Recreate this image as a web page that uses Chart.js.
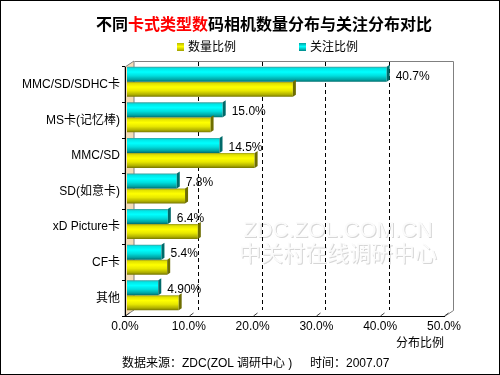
<!DOCTYPE html>
<html>
<head>
<meta charset="utf-8">
<script src="https://cdn.jsdelivr.net/npm/chart.js@4"></script>
<style>
    body { margin: 0; background: #fff; }
    #wrap { position: relative; width: 500px; height: 375px; background: #fff; overflow: hidden;
            font-family: 'Liberation Sans', 'Noto Sans CJK SC', sans-serif; color: #000; }
    #wrap canvas { position: absolute; left: 0; top: 0; }
    .frame { position: absolute; left: 0; top: 0; width: 500px; height: 375px; box-sizing: border-box;
             border: 1px solid #000; pointer-events: none; }
    .title { position: absolute; left: 96px; top: 14px; font: bold 16px 'Noto Sans CJK SC', sans-serif;
             line-height: 18px; white-space: nowrap; }
    .title span { color: #ff0000; }
    .lg { position: absolute; top: 40px; font-size: 12px; line-height: 14px; white-space: nowrap; }
    .lg i { position: absolute; left: -11px; top: 3px; width: 7px; height: 8px; }
    .note { position: absolute; top: 356px; font-size: 12px; line-height: 14px; white-space: nowrap; }
</style>
</head>
<body>
<div id="wrap">
    <canvas id="chart" width="500" height="375"></canvas>
    <div class="title">不同<span>卡式类型数</span>码相机数量分布与关注分布对比</div>
    <div class="lg" style="left:188px"><i style="background:linear-gradient(#b8b800,#ffff00 45%,#a0a000)"></i>数量比例</div>
    <div class="lg" style="left:310px"><i style="background:linear-gradient(#00a0a0,#00ffff 45%,#008888)"></i>关注比例</div>
    <div class="note" style="left:122px">数据来源：ZDC(ZOL 调研中心 )</div>
    <div class="note" style="left:310px">时间：2007.07</div>
    <div class="frame"></div>
</div>

<script>
    const categories = ['MMC/SD/SDHC卡', 'MS卡(记忆棒)', 'MMC/SD', 'SD(如意卡)', 'xD Picture卡', 'CF卡', '其他'];
    const attentionShare = [40.7, 15.0, 14.5, 7.8, 6.4, 5.4, 4.9];
    const attentionLabels = ['40.7%', '15.0%', '14.5%', '7.8%', '6.4%', '5.4%', '4.90%'];
    const quantityShare = [26.0, 13.1, 20.0, 9.1, 11.1, 6.3, 8.1];
    const xTickValues = [0, 10, 20, 30, 40, 50];

    // depth of the 3d box and of the bars
    const WALL_DX = 9, WALL_DY = -6;
    const BAR_DX = 2, BAR_DY = -3;

    const cyanStops = [[0, '#3f9d9d'], [0.12, '#00e6e6'], [0.35, '#00ffff'], [0.6, '#00dede'], [0.85, '#00a6a6'], [1, '#006e6e']];
    const yellowStops = [[0, '#9a9a20'], [0.12, '#e2e200'], [0.35, '#ffff00'], [0.6, '#e8e800'], [0.85, '#b0b000'], [1, '#767600']];

    function barFill(stops, fallback) {
        return function (c) {
            const el = c.element;
            if (!el || el.y == null || !el.height) return fallback;
            const g = c.chart.ctx.createLinearGradient(0, el.y - el.height / 2, 0, el.y + el.height / 2);
            stops.forEach(function (s) { g.addColorStop(s[0], s[1]); });
            return g;
        };
    }

    const frame3d = {
        id: 'frame3d',
        beforeDraw(chart) {
            const ctx = chart.ctx, a = chart.chartArea, x = chart.scales.x;
            ctx.save();
            // left wall
            ctx.fillStyle = '#f3dcb8';
            ctx.strokeStyle = '#808080';
            ctx.lineWidth = 1;
            ctx.beginPath();
            ctx.moveTo(a.left, a.top);
            ctx.lineTo(a.left + WALL_DX, a.top + WALL_DY);
            ctx.lineTo(a.left + WALL_DX, a.bottom + WALL_DY);
            ctx.lineTo(a.left, a.bottom);
            ctx.closePath();
            ctx.fill();
            ctx.stroke();
            // back wall + right edge
            ctx.beginPath();
            ctx.moveTo(a.left + WALL_DX + 0.5, a.top + WALL_DY + 0.5);
            ctx.lineTo(a.right + WALL_DX + 0.5, a.top + WALL_DY + 0.5);
            ctx.lineTo(a.right + WALL_DX + 0.5, a.bottom + WALL_DY + 0.5);
            ctx.lineTo(a.right + 0.5, a.bottom + 0.5);
            ctx.stroke();

            // watermark
            ctx.textAlign = 'center';
            ctx.font = '22px "Liberation Sans", sans-serif';
            ctx.textBaseline = 'alphabetic';
            ctx.fillStyle = '#d6d6d6';
            ctx.fillText('ZDC.ZOL.COM.CN', 339, 238);
            ctx.fillStyle = '#fbfbfb';
            ctx.fillText('ZDC.ZOL.COM.CN', 338, 237);
            ctx.font = '22px "Noto Sans CJK SC", sans-serif';
            ctx.textBaseline = 'middle';
            ctx.fillStyle = '#d6d6d6';
            ctx.fillText('中关村在线调研中心', 339, 254);
            ctx.fillStyle = '#fbfbfb';
            ctx.fillText('中关村在线调研中心', 338, 253);

            // dashed grid on the back wall
            ctx.strokeStyle = '#000';
            ctx.setLineDash([4, 3]);
            xTickValues.forEach(function (v) {
                if (v === xTickValues[0] || v === xTickValues[xTickValues.length - 1]) return;
                const px = Math.round(x.getPixelForValue(v) + WALL_DX) + 0.5;
                ctx.beginPath();
                ctx.moveTo(px, a.top + WALL_DY + 1);
                ctx.lineTo(px, a.bottom + WALL_DY);
                ctx.stroke();
            });
            ctx.setLineDash([]);
            // small floor ticks
            ctx.strokeStyle = '#404040';
            xTickValues.forEach(function (v) {
                const px = Math.round(x.getPixelForValue(v)) + 0.5;
                ctx.beginPath();
                ctx.moveTo(px, a.bottom);
                ctx.lineTo(px + 4, a.bottom - 3);
                ctx.stroke();
            });
            ctx.restore();
        },
        beforeDatasetsDraw(chart) {
            chart.ctx.save();
            chart.ctx.translate(BAR_DX, BAR_DY);
        },
        afterDatasetsDraw(chart) {
            const ctx = chart.ctx;
            chart.data.datasets.forEach(function (ds, di) {
                const meta = chart.getDatasetMeta(di);
                meta.data.forEach(function (el) {
                    const top = el.y - el.height / 2, bottom = el.y + el.height / 2;
                    ctx.fillStyle = ds.capColor;
                    ctx.beginPath();
                    ctx.moveTo(el.x, top);
                    ctx.lineTo(el.x + 3, top - 2);
                    ctx.lineTo(el.x + 3, bottom - 2);
                    ctx.lineTo(el.x, bottom);
                    ctx.closePath();
                    ctx.fill();
                });
            });
            ctx.restore();

            // value labels for the attention series
            const meta = chart.getDatasetMeta(0);
            ctx.save();
            ctx.fillStyle = '#000';
            ctx.font = '12px "Liberation Sans", sans-serif';
            ctx.textAlign = 'left';
            ctx.textBaseline = 'middle';
            meta.data.forEach(function (el, i) {
                ctx.fillText(attentionLabels[i], el.x + BAR_DX + 9, el.y + BAR_DY + 2);
            });
            ctx.restore();
        }
    };

    Chart.defaults.font.family = "'Liberation Sans', 'Noto Sans CJK SC', sans-serif";
    Chart.defaults.font.size = 12;
    Chart.defaults.color = '#000';

    const chart = new Chart(document.getElementById('chart'), {
        type: 'bar',
        data: {
            labels: categories,
            datasets: [{
                label: '关注比例',
                data: attentionShare,
                backgroundColor: barFill(cyanStops, '#00e0e0'),
                capColor: '#006a6a',
                borderWidth: 0
            }, {
                label: '数量比例',
                data: quantityShare,
                backgroundColor: barFill(yellowStops, '#e0e000'),
                capColor: '#6e6e00',
                borderWidth: 0
            }]
        },
        options: {
            indexAxis: 'y',
            responsive: false,
            animation: false,
            devicePixelRatio: 1,
            events: [],
            layout: { padding: { left: 5, right: 56, top: 67, bottom: 9 } },
            datasets: { bar: { categoryPercentage: 0.843, barPercentage: 1, clip: false } },
            plugins: {
                legend: { display: false },
                title: { display: false },
                tooltip: { enabled: false }
            },
            scales: {
                x: {
                    min: 0,
                    max: 50,
                    afterBuildTicks(s) { s.ticks = xTickValues.map(function (v) { return { value: v }; }); },
                    ticks: { padding: 3, color: '#000', callback: function (v) { return v.toFixed(1) + '%'; } },
                    grid: { display: false, drawTicks: false },
                    border: { color: '#000' },
                    title: { display: true, text: '分布比例', align: 'end', color: '#000', padding: { top: 0, bottom: 15 } },
                    afterFit(s) { s.height = 50; }
                },
                y: {
                    ticks: { padding: 2, color: '#000' },
                    grid: { drawOnChartArea: false, offset: true, tickLength: 3, color: '#000' },
                    border: { color: '#000' },
                    afterFit(s) { s.width = 120; }
                }
            }
        },
        plugins: [frame3d]
    });
    // second pass so the bar gradients can use the laid-out bar positions
    chart.update();
</script>
</body>
</html>
